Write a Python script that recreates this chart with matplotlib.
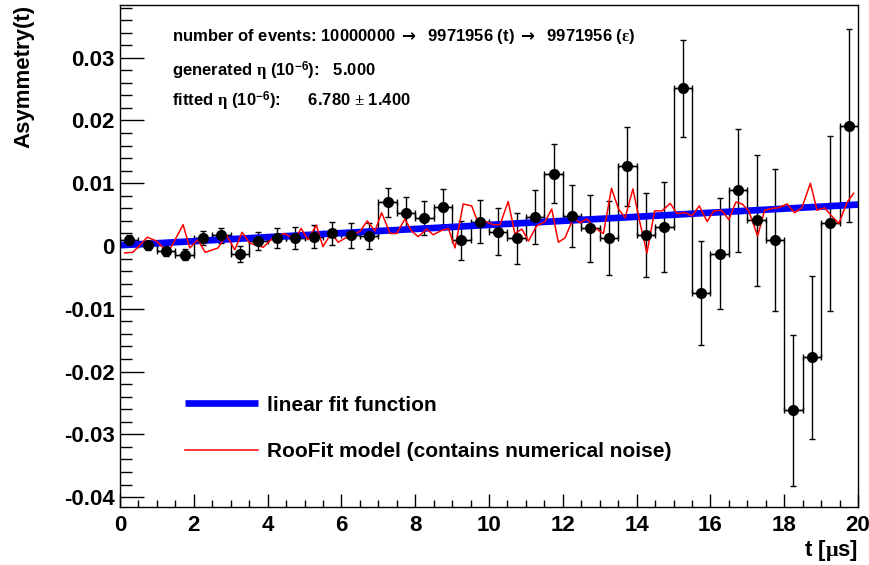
import numpy as np
import matplotlib
matplotlib.use("Agg")
import matplotlib.pyplot as plt
from matplotlib.ticker import MultipleLocator, FuncFormatter

plt.rcParams['font.family'] = ['Liberation Sans', 'DejaVu Sans']
plt.rcParams['font.weight'] = 'bold'
plt.rcParams['axes.labelweight'] = 'bold'
plt.rcParams['mathtext.fontset'] = 'custom'
plt.rcParams['mathtext.rm'] = 'Liberation Serif'
plt.rcParams['mathtext.bf'] = 'Liberation Sans:bold'
plt.rcParams['mathtext.it'] = 'Liberation Serif:italic'
plt.rcParams['mathtext.sf'] = 'DejaVu Sans'

# binned asymmetry data (40 bins of 0.5 us)
bin_edges = np.arange(0, 20.01, 0.5)
asym = [0.0010, 0.0001, -0.0008, -0.0014, 0.0013, 0.0017, -0.0013, 0.0008, 0.0013, 0.0013,
        0.0015, 0.0020, 0.0017, 0.0016, 0.0070, 0.0053, 0.0045, 0.0062, 0.0009, 0.0039,
        0.0023, 0.0012, 0.0047, 0.0115, 0.0048, 0.0028, 0.0013, 0.0127, 0.0018, 0.0030,
        0.0251, -0.0075, -0.0012, 0.0089, 0.0041, 0.0010, -0.0262, -0.0177, 0.0036, 0.0192]
asym_err = [0.0007, 0.0007, 0.0008, 0.0009, 0.0011, 0.0012, 0.0013, 0.0014, 0.0016, 0.0018,
            0.0018, 0.0019, 0.0020, 0.0021, 0.0023, 0.0025, 0.0027, 0.0029, 0.0031, 0.0034,
            0.0037, 0.0040, 0.0043, 0.0047, 0.0050, 0.0053, 0.0059, 0.0063, 0.0067, 0.0072,
            0.0078, 0.0083, 0.0089, 0.0098, 0.0104, 0.0113, 0.0120, 0.0130, 0.0140, 0.0153]

# linear fit
fit_t = [0.0, 20.0]
fit_a = [0.00012, 0.0066]

# RooFit model curve (noisy)
model_t = [0.13, 0.35, 0.74, 0.99, 1.30, 1.71, 1.89, 2.11, 2.31, 2.66, 2.88, 3.11, 3.31, 3.51,
           3.88, 4.15, 4.46, 4.73, 4.91, 5.09, 5.32, 5.50, 5.73, 5.91, 6.27, 6.50, 6.70, 6.91,
           7.09, 7.32, 7.50, 7.72, 7.90, 8.08, 8.31, 8.49, 8.72, 8.90, 9.08, 9.30, 9.53, 9.71,
           9.85, 10.12, 10.30, 10.52, 10.70, 10.89, 11.07, 11.29, 11.52, 11.70, 11.88, 12.06,
           12.29, 12.47, 12.65, 12.87, 13.10, 13.32, 13.51, 13.69, 13.90, 14.08, 14.28, 14.49,
           14.69, 14.91, 15.09, 15.32, 15.50, 15.70, 15.91, 16.09, 16.30, 16.50, 16.69, 16.86,
           17.04, 17.28, 17.47, 17.67, 17.85, 18.08, 18.28, 18.48, 18.71, 18.89, 19.09, 19.30,
           19.48, 19.70, 19.88]
model_a = [-0.0011, -0.0010, 0.0014, 0.0008, -0.0011, 0.0034, -0.0003, 0.0010, -0.0010, -0.0003,
           0.0018, -0.0006, 0.0022, 0.0005, -0.0002, 0.0013, 0.0020, 0.0010, 0.0028, 0.0010,
           0.0033, -0.0001, 0.0021, 0.0006, 0.0018, 0.0023, 0.0040, 0.0024, 0.0053, 0.0020,
           0.0020, 0.0043, 0.0024, 0.0015, 0.0027, 0.0018, 0.0025, 0.0028, -0.0003, 0.0067,
           0.0064, 0.0036, 0.0040, 0.0034, 0.0034, 0.0071, 0.0020, 0.0027, 0.0008, 0.0032,
           0.0039, 0.0059, 0.0006, 0.0013, 0.0045, 0.0037, 0.0043, 0.0029, 0.0020, 0.0092,
           0.0059, 0.0045, 0.0091, 0.0040, -0.0011, 0.0056, 0.0056, 0.0068, 0.0052, 0.0053,
           0.0048, 0.0064, 0.0039, 0.0056, 0.0057, 0.0042, 0.0070, 0.0067, 0.0056, 0.0016,
           0.0057, 0.0060, 0.0061, 0.0067, 0.0053, 0.0061, 0.0100, 0.0057, 0.0061, 0.0047,
           0.0036, 0.0069, 0.0084]

t_centers = 0.5 * (bin_edges[:-1] + bin_edges[1:])

fig = plt.figure(figsize=(8.69, 5.65), dpi=100)
ax = fig.add_axes([120 / 869, 1 - 506.5 / 565, 738 / 869, 501.5 / 565])

ax.stairs(asym, bin_edges, baseline=None, color='black', lw=1.0)
ax.errorbar(t_centers, asym, yerr=asym_err, xerr=0.25, fmt='o', color='black',
            ms=7, elinewidth=1.0, capsize=2.5, capthick=1.0)
fit_line, = ax.plot(fit_t, fit_a, color='#0000ff', lw=4.8, solid_capstyle='butt',
                    label='linear fit function')
model_line, = ax.plot(model_t, model_a, color='red', lw=1.1,
                      label='RooFit model (contains numerical noise)')

ax.set_xlim(0, 20)
ax.set_ylim(-0.0415, 0.0384)

ax.xaxis.set_major_locator(MultipleLocator(2))
ax.xaxis.set_minor_locator(MultipleLocator(0.5))
ax.yaxis.set_major_locator(MultipleLocator(0.01))
ax.yaxis.set_minor_locator(MultipleLocator(0.002))
ax.yaxis.set_major_formatter(FuncFormatter(lambda v, p: '0' if abs(v) < 1e-9 else '%.2f' % v))
ax.xaxis.set_major_formatter(FuncFormatter(lambda v, p: '%d' % round(v)))

ax.tick_params(axis='x', which='major', direction='in', length=9.4, width=1, labelsize=16, pad=6)
ax.tick_params(axis='x', which='minor', direction='in', length=4.7, width=1)
ax.tick_params(axis='y', which='major', direction='in', length=17.3, width=1, labelsize=16, pad=4)
ax.tick_params(axis='y', which='minor', direction='in', length=8.6, width=1)
for sp in ax.spines.values():
    sp.set_linewidth(1.0)

ax.set_ylabel('Asymmetry(t)', fontsize=16, fontweight='bold', loc='top')
ax.yaxis.set_label_coords(-0.116, 1.0)
ax.set_xlabel(r't [$\mathrm{\mu}$s]', fontsize=16, fontweight='bold', loc='right')
ax.xaxis.set_label_coords(1.0, -0.063)

# info text
ax.text(0.070, 0.928,
        r'number of events: 10000000 $\mathsf{\rightarrow}$  9971956 (t) $\mathsf{\rightarrow}$  9971956 ($\mathrm{\varepsilon}$)',
        transform=ax.transAxes, fontsize=12, va='baseline')
ax.text(0.070, 0.857, r'generated $\mathrm{\eta}$ (10$^{\mathbf{-6}}$):   5.000',
        transform=ax.transAxes, fontsize=12, va='baseline')
ax.text(0.070, 0.797, r'fitted $\mathrm{\eta}$ (10$^{\mathbf{-6}}$):      6.780 $\mathrm{\pm}$ 1.400',
        transform=ax.transAxes, fontsize=12, va='baseline')

ax.legend(handles=[fit_line, model_line], loc='center left', bbox_to_anchor=(0.088, 0.1555),
          frameon=False, fontsize=15, handlelength=3.5, handletextpad=0.45,
          labelspacing=1.33, borderpad=0, borderaxespad=0)

fig.savefig('out.png', dpi=100)
